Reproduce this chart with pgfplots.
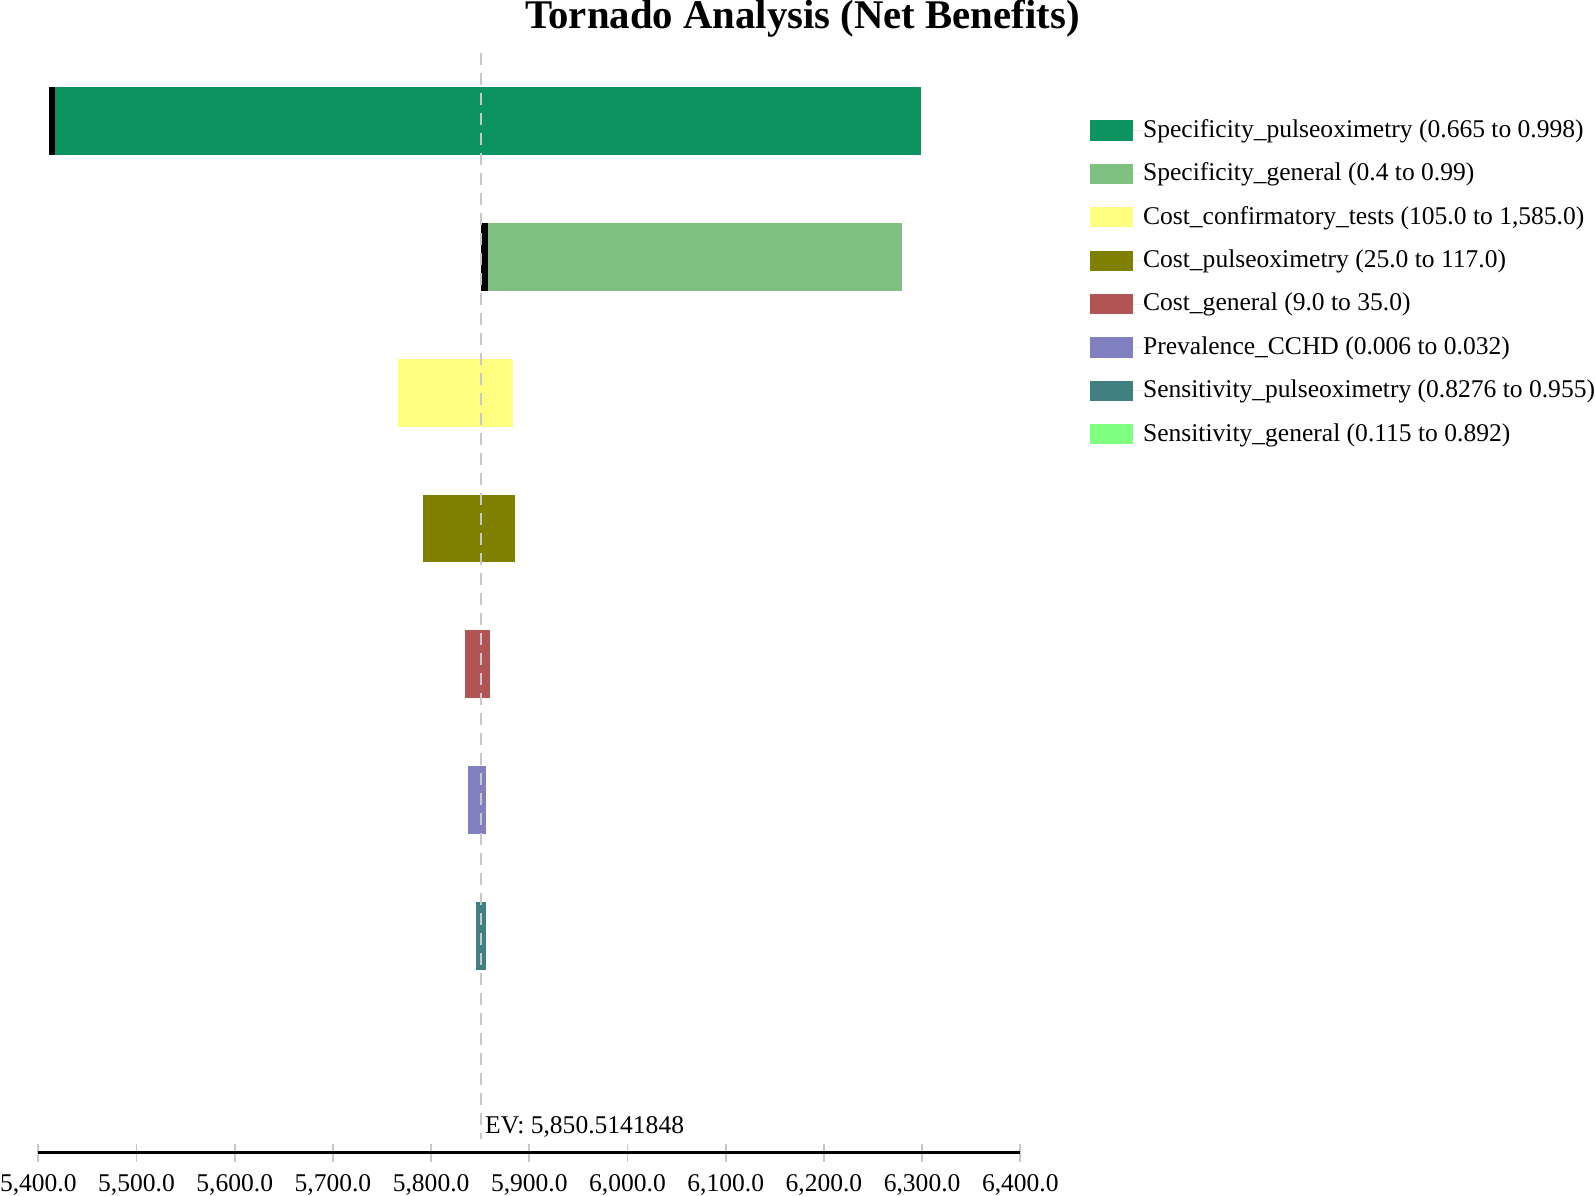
\documentclass[border=0pt]{standalone}
\usepackage{fontspec}
\setmainfont{Liberation Serif}
\usepackage{pgfplots}
\pgfplotsset{compat=1.18}

\definecolor{cSpecPulse}{HTML}{0B9361}
\definecolor{cSpecGen}{HTML}{80C080}
\definecolor{cCostConf}{HTML}{FFFF80}
\definecolor{cCostPulse}{HTML}{808000}
\definecolor{cCostGen}{HTML}{B05454}
\definecolor{cPrev}{HTML}{8080C0}
\definecolor{cSensPulse}{HTML}{408080}
\definecolor{cSensGen}{HTML}{80FF80}
\definecolor{evgray}{HTML}{C8C8C8}

\begin{document}
\begin{tikzpicture}
\begin{axis}[
    scale only axis,
    width=147.3mm, height=164.9mm,
    xmin=5400, xmax=6400,
    ymin=-7.6, ymax=0.5,
    clip=false,
    axis x line=bottom, axis y line=none,
    x axis line style={-, line width=1.3pt, black},
    xtick={5400,5500,...,6400},
    tick style={evgray, line width=0.8pt},
    major tick length=2.7mm,
    tick align=center,
    xticklabel style={font=\fontsize{10.9}{12}\selectfont, inner sep=0pt, yshift=-1.9mm},
    /pgf/number format/.cd, fixed, fixed zerofill, precision=1, 1000 sep={,}, assume math mode=true,
    /pgfplots/.cd,
    legend style={draw=none, inner sep=0pt, at={(1,1)}, anchor=north west, xshift=10.4mm, yshift=-9.5mm,
        font=\fontsize{10.9}{12}\selectfont, row sep=2.51mm,
        nodes={inner sep=0pt, text height=3mm, text depth=1mm}},
    legend cell align=left,
    % swatch plus a blank gap before the text
    legend image code/.code={\fill[#1] (0mm,-1.52mm) rectangle (6.4mm,1.52mm); \path (6.4mm,0) -- (7.95mm,0);},
]
% bars: rectangles from low to high value, slot i at y=-i
\addplot[fill=cSpecPulse, draw=none] coordinates {(5417.1,-0.25) (6299,-0.25) (6299,0.25) (5417.1,0.25)} -- cycle;
\addlegendentry{Specificity\_pulseoximetry (0.665 to 0.998)}
\addplot[fill=cSpecGen, draw=none] coordinates {(5857.6,-1.25) (6279.5,-1.25) (6279.5,-0.75) (5857.6,-0.75)} -- cycle;
\addlegendentry{Specificity\_general (0.4 to 0.99)}
\addplot[fill=cCostConf, draw=none] coordinates {(5766,-2.25) (5883.4,-2.25) (5883.4,-1.75) (5766,-1.75)} -- cycle;
\addlegendentry{Cost\_confirmatory\_tests (105.0 to 1,585.0)}
\addplot[fill=cCostPulse, draw=none] coordinates {(5792,-3.25) (5885.4,-3.25) (5885.4,-2.75) (5792,-2.75)} -- cycle;
\addlegendentry{Cost\_pulseoximetry (25.0 to 117.0)}
\addplot[fill=cCostGen, draw=none] coordinates {(5834,-4.25) (5860,-4.25) (5860,-3.75) (5834,-3.75)} -- cycle;
\addlegendentry{Cost\_general (9.0 to 35.0)}
\addplot[fill=cPrev, draw=none] coordinates {(5837.1,-5.25) (5855.9,-5.25) (5855.9,-4.75) (5837.1,-4.75)} -- cycle;
\addlegendentry{Prevalence\_CCHD (0.006 to 0.032)}
\addplot[fill=cSensPulse, draw=none] coordinates {(5845.3,-6.25) (5855.9,-6.25) (5855.9,-5.75) (5845.3,-5.75)} -- cycle;
\addlegendentry{Sensitivity\_pulseoximetry (0.8276 to 0.955)}
\addlegendimage{fill=cSensGen, draw=none}
\addlegendentry{Sensitivity\_general (0.115 to 0.892)}
% black end strips
\addplot[fill=black, draw=none, forget plot] coordinates {(5410.4,-0.25) (5417.1,-0.25) (5417.1,0.25) (5410.4,0.25)} -- cycle;
\addplot[fill=black, draw=none, forget plot] coordinates {(5850.8,-1.25) (5857.6,-1.25) (5857.6,-0.75) (5850.8,-0.75)} -- cycle;
% expected value line
\addplot[evgray, line width=0.9pt, dash pattern=on 1.8mm off 1.2mm, forget plot] coordinates {(5850.514,0.5) (5850.514,-7.5)};
\node[anchor=west, inner sep=0pt, xshift=0.6mm, font=\fontsize{10.9}{12}\selectfont] at (axis cs:5850.514,-7.41) {EV: 5,850.5141848};
\node[font=\bfseries\fontsize{17.4}{20}\selectfont, inner sep=0pt] at (rel axis cs:0.778,1) [yshift=5.2mm] {Tornado Analysis (Net Benefits)};
\end{axis}
\end{tikzpicture}
\end{document}
